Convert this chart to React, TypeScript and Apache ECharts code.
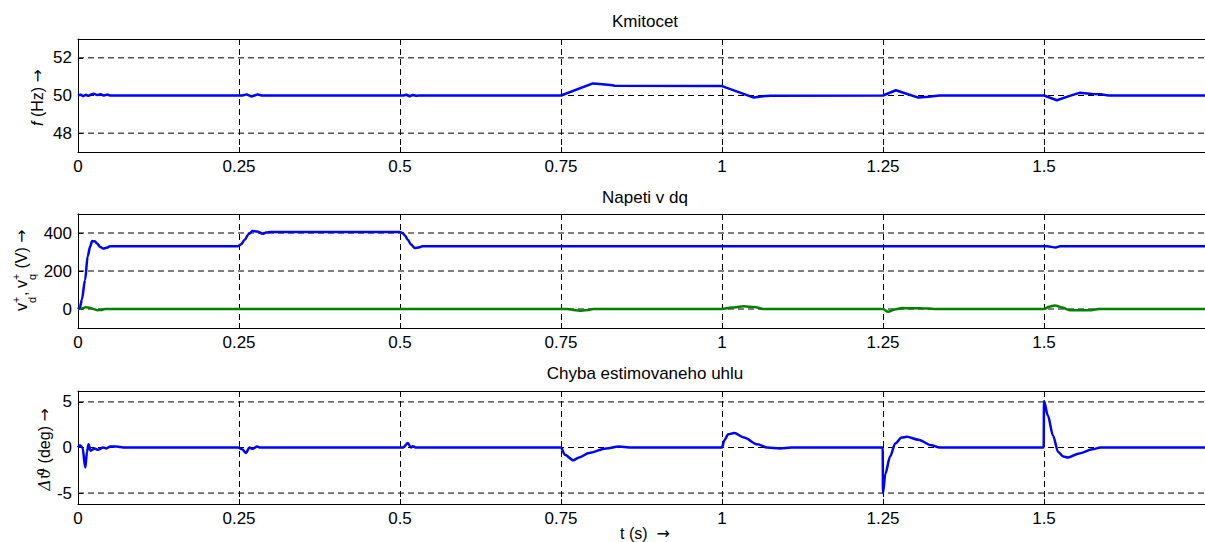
import React, { useEffect, useRef } from "react";
import * as echarts from "echarts";

const FONT = "'Liberation Sans', Arial, Helvetica, sans-serif";
const ARROW_FONT = "'DejaVu Sans', sans-serif";
const FS = 17;

// x axis (time, s)
const X_MIN = 0;
const X_MAX = 1.75;
const X_STEP = 0.25;

// Plot 1: frequency (Hz)
const freqTicks = [48, 50, 52];
const freqT = [0, 0.004, 0.008, 0.012, 0.016, 0.02, 0.025, 0.03, 0.035, 0.04, 0.045, 0.05,
  0.255, 0.262, 0.269, 0.274, 0.279, 0.285,
  0.505, 0.51, 0.515, 0.52, 0.525, 0.53,
  0.75, 0.7995, 0.81, 0.83, 0.833, 1.0, 1.0495, 1.06, 1.075,
  1.25, 1.27, 1.29, 1.305, 1.32, 1.338,
  1.5, 1.52, 1.54, 1.555, 1.575, 1.59, 1.6, 1.75];
const freqV = [50, 50.05, 49.97, 50.04, 49.98, 50.05, 50.09, 50.02, 50.07, 49.99, 50.05, 50,
  50, 50.06, 49.95, 50.0, 50.06, 50,
  50, 50.04, 49.96, 50.03, 49.99, 50,
  50, 50.64, 50.61, 50.55, 50.52, 50.5, 49.89, 49.95, 49.99,
  50, 50.28, 50.05, 49.89, 49.93, 50,
  50, 49.75, 49.98, 50.14, 50.08, 50.06, 50, 50];

// Plot 2: dq voltages (V)
const voltTicks = [0, 200, 400];
const vdT = [0, 0.003, 0.006, 0.011, 0.015, 0.019, 0.022, 0.026, 0.03, 0.034, 0.039, 0.044, 0.05,
  0.248, 0.253, 0.259, 0.265, 0.271, 0.278, 0.287, 0.292, 0.3,
  0.5, 0.504, 0.508, 0.512, 0.517, 0.523, 0.529, 0.535,
  1.505, 1.518, 1.525, 1.75];
const vdV = [0, 8, 49, 154, 277, 330, 358, 356, 343, 328, 318, 322, 330,
  330, 340, 365, 395, 410, 408, 396, 403, 405,
  405, 400, 385, 365, 340, 321, 324, 330,
  330, 324, 330, 330];
const vqT = [0, 0.006, 0.012, 0.018, 0.024, 0.03, 0.036, 0.042,
  0.76, 0.772, 0.782, 0.792, 0.8,
  1.0, 1.015, 1.034, 1.05, 1.065,
  1.25, 1.258, 1.268, 1.28, 1.31, 1.33,
  1.5, 1.508, 1.517, 1.528, 1.54, 1.573, 1.585, 1.75];
const vqV = [0, 3, 9, 7, 0, -6, -5, 0,
  0, -6, -9, -5, 0,
  0, 8, 14, 10, 0,
  0, -15, -3, 5, 4, 0,
  0, 12, 19, 8, -6, -6, 0, 0];

// Plot 3: angle estimation error (deg)
const angTicks = [-5, 0, 5];
const angT = [0, 0.003, 0.007, 0.0113, 0.014, 0.0163, 0.0196, 0.026, 0.031, 0.039, 0.044, 0.05, 0.06, 0.07,
  0.248, 0.255, 0.261, 0.266, 0.271, 0.278, 0.283,
  0.505, 0.512, 0.517, 0.52, 0.525,
  0.75, 0.756, 0.769, 0.778, 0.7935, 0.82, 0.84, 0.856,
  1.0, 1.0036, 1.0097, 1.019, 1.034, 1.055, 1.07, 1.09, 1.108,
  1.2495, 1.25, 1.2536, 1.261, 1.269, 1.279, 1.287, 1.305, 1.325, 1.338,
  1.4995, 1.5, 1.506, 1.514, 1.522, 1.53, 1.537, 1.555, 1.575, 1.588, 1.75];
const angV = [0, 0.25, 0, -2.2, -0.5, 0.35, -0.35, -0.1, -0.25, 0, -0.1, 0.1, 0.1, 0,
  0, -0.2, -0.6, 0, -0.15, 0.1, 0,
  0, 0.5, 0, 0.15, 0,
  0, -0.8, -1.4, -1.1, -0.6, -0.1, 0.1, 0,
  0, 0.8, 1.45, 1.6, 1.1, 0.35, 0, -0.1, 0,
  0, -5, -2.9, -1.0, 0.45, 1.1, 1.17, 0.85, 0.25, 0,
  0, 5.1, 3.5, 1.3, -0.5, -1.0, -1.1, -0.65, -0.2, 0, 0];

const zip = (t: number[], v: number[]) => t.map((x, i) => [x, v[i]]);

const GRID_LEFT = 78;
const GRID_WIDTH = 1143;
const grids = [
  { top: 39, height: 113, min: 47, max: 53, ticks: freqTicks },
  { top: 214, height: 114, min: -100, max: 500, ticks: voltTicks },
  { top: 391, height: 113, min: -6.2, max: 6.2, ticks: angTicks },
];

const BLUE = "#0000ff";
const GREEN = "#008000";
const DASH = [6, 4];

export default function App() {
  const ref = useRef<HTMLDivElement>(null);

  useEffect(() => {
    if (!ref.current) return;
    const chart = echarts.init(ref.current, undefined, { renderer: "svg" });

    const gridOpts = grids.map((g) => ({
      left: GRID_LEFT,
      top: g.top,
      width: GRID_WIDTH,
      height: g.height,
      show: false,
    }));

    const bottomX = grids.map((_, i) => ({
      type: "value",
      gridIndex: i,
      position: "bottom",
      min: X_MIN,
      max: X_MAX,
      interval: X_STEP,
      axisLine: { show: true, onZero: false, lineStyle: { color: "#000", width: 1 } },
      axisTick: { show: true, inside: true, length: 5, lineStyle: { color: "#000" } },
      axisLabel: { show: true, fontSize: FS, color: "#000", fontFamily: FONT, margin: 6, showMaxLabel: false },
      splitLine: { show: true, lineStyle: { color: "#000", width: 1, type: DASH } },
    }));
    const topX = grids.map((_, i) => ({
      type: "value",
      gridIndex: i,
      position: "top",
      min: X_MIN,
      max: X_MAX,
      interval: X_STEP,
      axisLine: { show: true, onZero: false, lineStyle: { color: "#000", width: 1 } },
      axisTick: { show: true, inside: true, length: 5, lineStyle: { color: "#000" } },
      axisLabel: { show: false },
      splitLine: { show: false },
    }));

    const yAxes = grids.map((g, i) => ({
      type: "value",
      gridIndex: i,
      min: g.min,
      max: g.max,
      axisLine: { show: true, onZero: false, lineStyle: { color: "#000", width: 1 } },
      axisTick: { show: true, inside: true, length: 5, customValues: g.ticks, lineStyle: { color: "#000" } },
      axisLabel: { show: true, customValues: g.ticks, fontSize: FS, color: "#000", fontFamily: FONT, margin: 6 },
      splitLine: { show: false },
    }));

    const gridLineSeries = grids.flatMap((g, i) =>
      g.ticks.map((v) => ({
        type: "line",
        xAxisIndex: i,
        yAxisIndex: i,
        silent: true,
        z: 1,
        symbol: "none",
        data: [[X_MIN, v], [X_MAX, v]],
        lineStyle: { color: "#000", width: 1, type: DASH },
      }))
    );

    const lineBase = { type: "line", symbol: "none", showSymbol: false, z: 3, silent: true };

    const titleText = (text: string, y: number) => ({
      type: "text",
      x: 645,
      y,
      style: { text, fontSize: FS, fontFamily: FONT, fill: "#000", align: "center", verticalAlign: "middle" },
    });

    const supSub = (x: number, y: number, t: string) => ({
      type: "text",
      x,
      y,
      style: { text: t, fontSize: 11, fontFamily: FONT, fill: "#000", align: "left", verticalAlign: "middle" },
    });

    const arrowRich = { a: { fontSize: 16, fontFamily: ARROW_FONT, fill: "#000" } };

    chart.setOption({
      animation: false,
      backgroundColor: "#fff",
      grid: gridOpts,
      xAxis: [...bottomX, ...topX],
      yAxis: yAxes,
      series: [
        ...gridLineSeries,
        { ...lineBase, xAxisIndex: 0, yAxisIndex: 0, data: zip(freqT, freqV), lineStyle: { color: BLUE, width: 2.5 } },
        { ...lineBase, xAxisIndex: 1, yAxisIndex: 1, data: zip(vqT, vqV), smooth: 0.3, smoothMonotone: "x", lineStyle: { color: GREEN, width: 2.5 } },
        { ...lineBase, xAxisIndex: 1, yAxisIndex: 1, data: zip(vdT, vdV), smooth: 0.3, smoothMonotone: "x", lineStyle: { color: BLUE, width: 2.5 } },
        { ...lineBase, xAxisIndex: 2, yAxisIndex: 2, data: zip(angT, angV), smooth: 0.3, smoothMonotone: "x", lineStyle: { color: BLUE, width: 2.5 } },
      ],
      graphic: [
        titleText("Kmitocet", 21),
        titleText("Napeti v dq", 197),
        titleText("Chyba estimovaneho uhlu", 373),
        {
          type: "text",
          x: 645,
          y: 533,
          style: {
            text: "t (s)  {a|\u2192}",
            fontSize: 16,
            fontFamily: FONT,
            fill: "#000",
            align: "center",
            verticalAlign: "middle",
            rich: arrowRich,
          },
        },
        {
          type: "text",
          x: 37.5,
          y: 97.5,
          rotation: Math.PI / 2,
          style: {
            text: "{i|f} (Hz) {a|\u2192}",
            fontSize: 16,
            fontFamily: FONT,
            fill: "#000",
            align: "center",
            verticalAlign: "middle",
            rich: { i: { fontStyle: "italic", fontSize: 16, fontFamily: FONT, fill: "#000" }, ...arrowRich },
          },
        },
        {
          type: "text",
          x: 44.5,
          y: 449.5,
          rotation: Math.PI / 2,
          style: {
            text: "{i|\u0394\u03D1} (deg) {a|\u2192}",
            fontSize: 16,
            fontFamily: FONT,
            fill: "#000",
            align: "center",
            verticalAlign: "middle",
            rich: { i: { fontStyle: "italic", fontSize: 16, fontFamily: "'DejaVu Serif', serif", fill: "#000" }, ...arrowRich },
          },
        },
        {
          type: "group",
          x: 21.5,
          y: 311,
          rotation: Math.PI / 2,
          children: [
            { type: "text", x: 0, y: 0, style: { text: "v", fontSize: 16, fontFamily: FONT, fill: "#000", align: "left", verticalAlign: "middle" } },
            supSub(8, -6, "+"),
            supSub(8, 10, "d"),
            { type: "text", x: 15, y: 0, style: { text: ",", fontSize: 16, fontFamily: FONT, fill: "#000", align: "left", verticalAlign: "middle" } },
            { type: "text", x: 23, y: 0, style: { text: "v", fontSize: 16, fontFamily: FONT, fill: "#000", align: "left", verticalAlign: "middle" } },
            supSub(31, -6, "+"),
            supSub(31, 10, "q"),
            {
              type: "text",
              x: 38,
              y: 0,
              style: { text: " (V) {a|\u2192}", fontSize: 16, fontFamily: FONT, fill: "#000", align: "left", verticalAlign: "middle", rich: arrowRich },
            },
          ],
        },
      ],
    });

    return () => chart.dispose();
  }, []);

  return (
    <div
      ref={ref}
      style={{ position: "absolute", left: 0, top: 0, width: 1205, height: 542, overflow: "hidden", background: "#fff" }}
    />
  );
}
